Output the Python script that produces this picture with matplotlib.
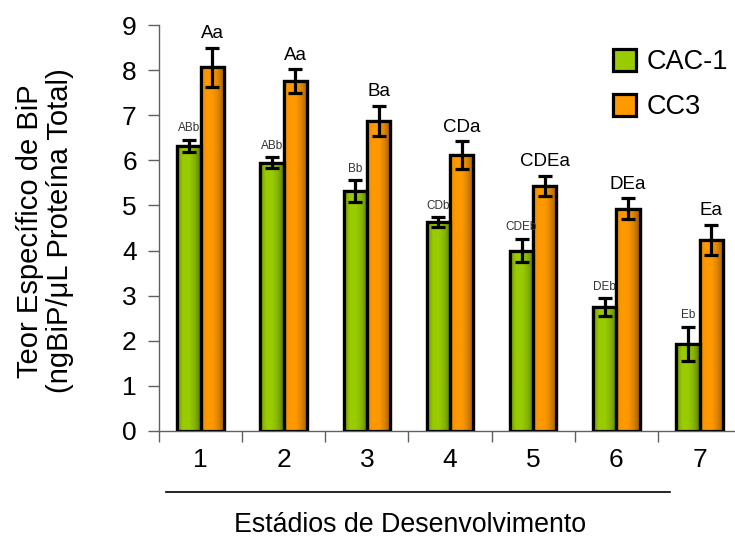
import numpy as np
import matplotlib
matplotlib.use('Agg')
import matplotlib.pyplot as plt
from matplotlib.colors import LinearSegmentedColormap
from matplotlib.lines import Line2D

plt.rcParams['font.family'] = ['Liberation Sans', 'DejaVu Sans']

estadios = ['1', '2', '3', '4', '5', '6', '7']
cac1 = [6.32, 5.95, 5.32, 4.63, 4.00, 2.74, 1.93]
cac1_err = [0.13, 0.12, 0.24, 0.11, 0.26, 0.20, 0.38]
cc3 = [8.06, 7.76, 6.87, 6.11, 5.44, 4.93, 4.24]
cc3_err = [0.44, 0.26, 0.34, 0.31, 0.22, 0.23, 0.33]
cac1_letras = ['ABb', 'ABb', 'Bb', 'CDb', 'CDEb', 'DEb', 'Eb']
cc3_letras = ['Aa', 'Aa', 'Ba', 'CDa', 'CDEa', 'DEa', 'Ea']

verde = '#99cc00'
laranja = '#ff9900'
cmap_verde = LinearSegmentedColormap.from_list('v', ['#6f9400', '#99cc00', '#99cc00', '#86b300', '#5a7a00'])
cmap_laranja = LinearSegmentedColormap.from_list('l', ['#f08c00', '#ff9900', '#ff9900', '#d98200', '#995c00'])

fig = plt.figure(figsize=(7.35, 5.37), dpi=100)
ax = fig.add_axes([0.2163, 0.1974, 0.792, 0.756])

x = np.arange(1, len(estadios) + 1)
w = 0.28
grad = np.linspace(0, 1, 64).reshape(1, -1)

series = [
    (x - w / 2, cac1, cac1_err, verde, cmap_verde, 'CAC-1'),
    (x + w / 2, cc3, cc3_err, laranja, cmap_laranja, 'CC3'),
]
handles = []
for pos, vals, errs, cor, cm, nome in series:
    b = ax.bar(pos, vals, w, color=cor, edgecolor='black', linewidth=2.3, zorder=2, label=nome)
    handles.append(b)
    for rect in b:
        im = ax.imshow(grad, extent=(rect.get_x(), rect.get_x() + rect.get_width(), 0, rect.get_height()),
                       cmap=cm, aspect='auto', zorder=2.5, interpolation='bilinear')
        im.set_clip_path(rect)
    ax.bar(pos, vals, w, fill=False, edgecolor='black', linewidth=2.3, zorder=3)
    ax.errorbar(pos, vals, yerr=errs, fmt='none', ecolor='black', elinewidth=2.3,
                capsize=5, capthick=2.3, zorder=4)

for xi, v, e, t in zip(x - w / 2, cac1, cac1_err, cac1_letras):
    ax.annotate(t, (xi, v + e), xytext=(0, 4), textcoords='offset points',
                ha='center', va='bottom', fontsize=8.5, color='#333333')
for xi, v, e, t in zip(x + w / 2, cc3, cc3_err, cc3_letras):
    ax.annotate(t, (xi, v + e), xytext=(0, 4), textcoords='offset points',
                ha='center', va='bottom', fontsize=13.5, color='black')

ax.set_xlim(0.5, 7.5)
ax.set_ylim(0, 9)
ax.set_yticks(range(0, 10))
ax.set_xticks(x)
ax.set_xticklabels(estadios)
ax.set_xticks(np.arange(0.5, 8.0, 1.0), minor=True)
ax.tick_params(axis='x', which='major', length=0, pad=12, labelsize=19)
ax.tick_params(axis='x', which='minor', direction='out', length=8, width=1, color='#606060')
ax.tick_params(axis='y', direction='out', length=8, width=1, color='#606060', pad=8, labelsize=19)
for s in ['top', 'right']:
    ax.spines[s].set_visible(False)
for s in ['left', 'bottom']:
    ax.spines[s].set_color('#606060')
    ax.spines[s].set_linewidth(1)
ax.spines['left'].set_zorder(5)

fig.text(45 / 735, 1 - 231 / 537, 'Teor Específico de BiP\n(ngBiP/μL Proteína Total)',
         rotation=90, ha='center', va='center', multialignment='center', fontsize=21, linespacing=1.1)

fig.add_artist(Line2D([166 / 735, 670 / 735], [1 - 492 / 537, 1 - 492 / 537], color='black', lw=1.2))
fig.text(410 / 735, 1 - 525 / 537, 'Estádios de Desenvolvimento', ha='center', va='center', fontsize=19.3)

ax.legend(handles=handles, loc='upper left', bbox_to_anchor=(613 / 735, 1 - 49 / 537),
          bbox_transform=fig.transFigure, frameon=False, fontsize=19.5, handlelength=0.85,
          handleheight=0.85, handletextpad=0.4, labelspacing=0.7, borderpad=0, borderaxespad=0)

fig.savefig('out.png', dpi=100)
